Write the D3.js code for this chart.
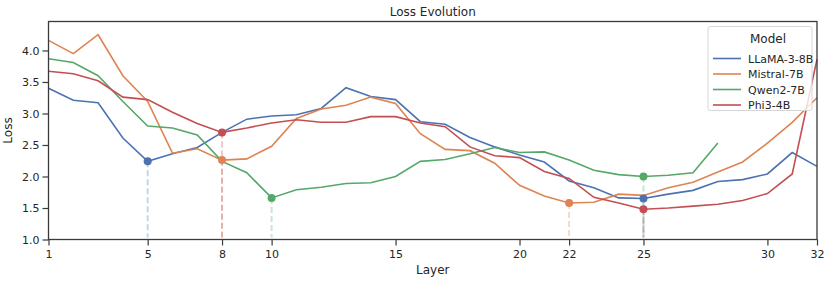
<!DOCTYPE html>
<html>
<head>
<meta charset="utf-8">
<script src="https://cdn.jsdelivr.net/npm/d3@7"></script>
<style>
  body { margin: 0; background: #fff; }
  text { font-family: "DejaVu Sans", sans-serif; fill: #262626; }
</style>
</head>
<body>
<div id="chart"></div>
<script>
// data
var layers = d3.range(1, 33);
var models = ["LLaMA-3-8B", "Mistral-7B", "Qwen2-7B", "Phi3-4B"];
var colors = ["#4C72B0", "#DD8452", "#55A868", "#C44E52"];

var llama = [3.40, 3.21, 3.17, 2.61, 2.24, 2.36, 2.46, 2.70, 2.91, 2.96, 2.98, 3.08, 3.41, 3.27, 3.22, 2.87,
             2.83, 2.62, 2.47, 2.34, 2.23, 1.93, 1.82, 1.66, 1.65, 1.72, 1.78, 1.92, 1.95, 2.04, 2.38, 2.16];
var mistral = [4.16, 3.95, 4.25, 3.60, 3.19, 2.37, 2.44, 2.26, 2.28, 2.48, 2.92, 3.07, 3.13, 3.26, 3.16, 2.68,
               2.43, 2.41, 2.21, 1.86, 1.69, 1.58, 1.59, 1.72, 1.70, 1.82, 1.91, 2.07, 2.23, 2.53, 2.86, 3.25];
var qwen = [3.87, 3.81, 3.60, 3.19, 2.80, 2.77, 2.66, 2.24, 2.06, 1.66, 1.79, 1.83, 1.89, 1.90, 2.00, 2.24,
            2.27, 2.36, 2.46, 2.38, 2.39, 2.26, 2.10, 2.03, 2.00, 2.02, 2.06, 2.53];
var phi = [3.67, 3.63, 3.52, 3.26, 3.22, 3.02, 2.84, 2.70, 2.77, 2.85, 2.90, 2.86, 2.86, 2.95, 2.95, 2.85,
           2.79, 2.47, 2.33, 2.30, 2.08, 1.97, 1.67, 1.58, 1.48, 1.50, 1.53, 1.56, 1.62, 1.73, 2.04, 3.86];
var seriesValues = [llama, mistral, qwen, phi];

// highlighted layers per model
var highlights = [[5, 25], [8, 22], [10, 25], [8, 25]];

var xTicks = [1, 5, 8, 10, 15, 20, 22, 25, 30, 32];
var yTicks = [1.0, 1.5, 2.0, 2.5, 3.0, 3.5, 4.0];

var margin = {top: 21.5, right: 14, bottom: 42.5, left: 48.5},
    width = 831 - margin.left - margin.right,
    height = 282 - margin.top - margin.bottom;

var svg = d3.select("#chart")
  .append("svg")
    .attr("width", 831)
    .attr("height", 282)
  .append("g")
    .attr("transform", "translate(" + margin.left + "," + margin.top + ")");

var x = d3.scaleLinear().domain([1, 32]).range([0, width]);
var y = d3.scaleLinear().domain([1.0, 4.46]).range([height, 0]);

// dashed drop lines (drawn first, under the curves)
seriesValues.forEach(function(vals, i) {
  highlights[i].forEach(function(L) {
    svg.append("line")
      .attr("x1", x(L)).attr("x2", x(L))
      .attr("y1", y(vals[L - 1])).attr("y2", height - 2)
      .attr("stroke", colors[i])
      .attr("stroke-opacity", 0.3)
      .attr("stroke-width", 2)
      .attr("stroke-dasharray", "6,3");
  });
});

// lines
var line = d3.line()
  .x(function(d, i) { return x(layers[i]); })
  .y(function(d) { return y(d); });

seriesValues.forEach(function(vals, i) {
  svg.append("path")
    .datum(vals)
    .attr("fill", "none")
    .attr("stroke", colors[i])
    .attr("stroke-width", 1.6)
    .attr("d", line);
});

// markers
seriesValues.forEach(function(vals, i) {
  svg.append("g")
    .selectAll("circle")
    .data(highlights[i])
    .enter()
    .append("circle")
      .attr("cx", function(L) { return x(L); })
      .attr("cy", function(L) { return y(vals[L - 1]); })
      .attr("r", 4)
      .attr("fill", colors[i]);
});

// axes
var xAxis = svg.append("g")
  .attr("transform", "translate(0," + height + ")")
  .call(d3.axisBottom(x).tickValues(xTicks).tickFormat(d3.format("d")).tickSize(6).tickSizeOuter(0));
var yAxis = svg.append("g")
  .call(d3.axisLeft(y).tickValues(yTicks).tickFormat(d3.format(".1f")).tickSize(6).tickSizeOuter(0));

[xAxis, yAxis].forEach(function(a) {
  a.select(".domain").remove();
  a.selectAll("line").attr("stroke", "#3a3a3a").attr("stroke-width", 1.2);
  a.selectAll("text").style("font-size", "11px").attr("fill", "#262626");
});
xAxis.selectAll("text").attr("dy", "0.9em");

// frame
svg.append("rect")
  .attr("width", width)
  .attr("height", height)
  .attr("fill", "none")
  .attr("stroke", "#3a3a3a")
  .attr("stroke-width", 1.3);

// title and labels
svg.append("text")
  .attr("x", width / 2)
  .attr("y", -6)
  .style("text-anchor", "middle")
  .style("font-size", "12px")
  .text("Loss Evolution");

svg.append("text")
  .attr("transform", "translate(" + (width / 2) + " ," + (height + 34) + ")")
  .style("text-anchor", "middle")
  .style("font-size", "12px")
  .text("Layer");

svg.append("text")
  .attr("transform", "rotate(-90)")
  .attr("y", -36.5)
  .attr("x", -(height / 2))
  .style("text-anchor", "middle")
  .style("font-size", "12px")
  .text("Loss");

// legend
var lg = svg.append("g").attr("transform", "translate(" + (x(32) - 109) + ",5)");
lg.append("rect")
  .attr("width", 104)
  .attr("height", 84)
  .attr("rx", 2.5)
  .attr("fill", "#fff")
  .attr("fill-opacity", 0.8)
  .attr("stroke", "#d6d6d6");
lg.append("text")
  .attr("x", 60).attr("y", 16)
  .style("text-anchor", "middle")
  .style("font-size", "12px")
  .text("Model");
models.forEach(function(m, i) {
  var yy = 32 + i * 15.5;
  lg.append("line")
    .attr("x1", 5).attr("x2", 33)
    .attr("y1", yy).attr("y2", yy)
    .attr("stroke", colors[i])
    .attr("stroke-width", 1.6);
  lg.append("text")
    .attr("x", 40).attr("y", yy + 4)
    .style("font-size", "11px")
    .text(m);
});
</script>
</body>
</html>
